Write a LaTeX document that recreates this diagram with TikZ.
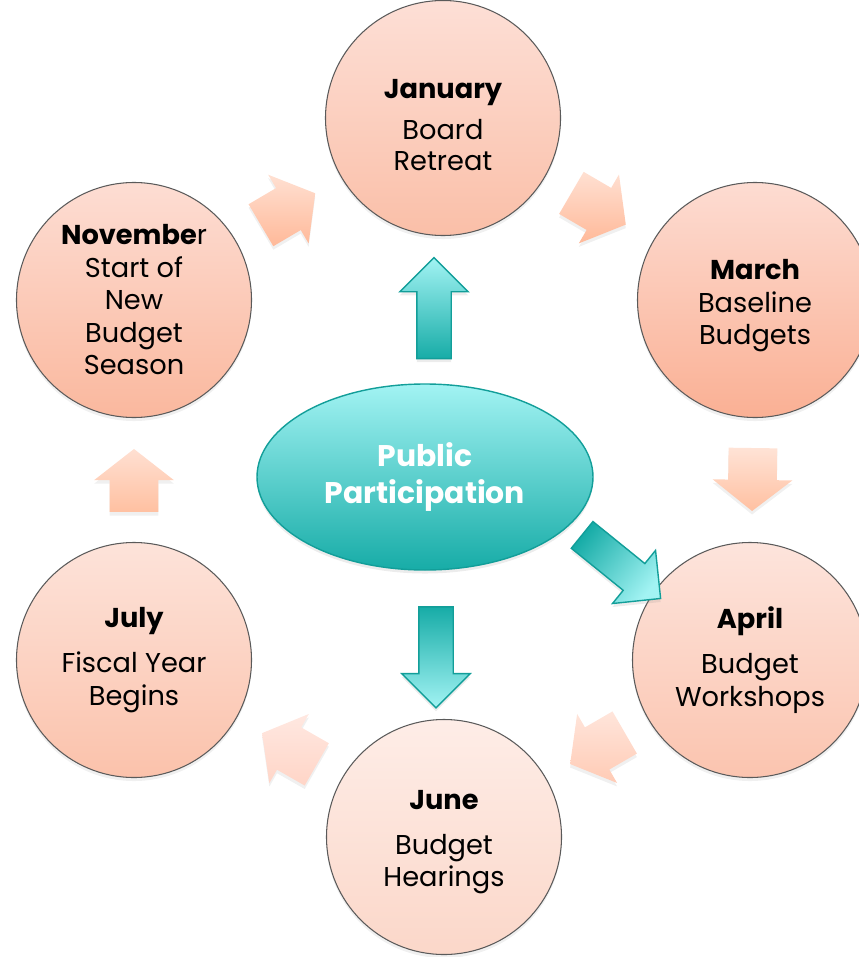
\documentclass[tikz,border=0pt]{standalone}
\usepackage{fontspec}
\setmainfont{Poppins}
\usetikzlibrary{shapes.geometric,shapes.arrows,shadows}
\definecolor{tealdark}{HTML}{17ACA7}
\definecolor{teallight}{HTML}{A2F3F3}
\definecolor{tealline}{HTML}{129E99}
\definecolor{ringline}{HTML}{5A5A5A}
\definecolor{janlight}{HTML}{FDDFD6}
\definecolor{jandark}{HTML}{FABFA8}
\definecolor{marlight}{HTML}{FDDCD2}
\definecolor{mardark}{HTML}{FAB094}
\definecolor{aprlight}{HTML}{FDE4DC}
\definecolor{aprdark}{HTML}{FBC4AF}
\definecolor{junlight}{HTML}{FEEDE7}
\definecolor{jundark}{HTML}{FBD7C9}
\definecolor{jullight}{HTML}{FDE3DA}
\definecolor{juldark}{HTML}{FBC2AB}
\definecolor{novlight}{HTML}{FDDDD3}
\definecolor{novdark}{HTML}{FAB89E}
\definecolor{peachA}{HTML}{FFE0D2}
\definecolor{peachB}{HTML}{FFB999}
\definecolor{peachC}{HTML}{FFE3D6}
\definecolor{peachD}{HTML}{FFC0A1}
\definecolor{peachE}{HTML}{FFE5DB}
\definecolor{peachF}{HTML}{FFCBB5}
\definecolor{peachG}{HTML}{FFE8E1}
\definecolor{peachH}{HTML}{FFD5C7}
\begin{document}
\begin{tikzpicture}
  \useasboundingbox (0,0) rectangle (17.16,-19.14);

  \tikzstyle{month}=[circle, draw=ringline, line width=0.6pt, minimum size=4.7cm, inner sep=0pt, align=center, font=\fontsize{15.5}{18.5}\selectfont, drop shadow={opacity=0.12, shadow xshift=0pt, shadow yshift=-2pt}]
  \tikzstyle{peach}=[single arrow, minimum height=1.26cm, single arrow head extend=0.31cm, single arrow tip angle=104, inner xsep=0pt, inner ysep=0.48cm, sloped, allow upside down, xshift=-0.2cm, drop shadow={opacity=0.12, shadow xshift=0pt, shadow yshift=-2pt}]
  \tikzstyle{tealarrow}=[single arrow, draw=tealline, line width=0.8pt, minimum height=2.02cm, single arrow head extend=0.34cm, inner xsep=0pt, inner ysep=0.33cm, top color=teallight, bottom color=tealdark, drop shadow={opacity=0.15, shadow xshift=0pt, shadow yshift=-2pt}]

  \node[month, top color=janlight, bottom color=jandark] (jan) at (8.86,-2.36) {\textbf{January}\rule{0pt}{0.67cm}\\[5pt]Board\\[-1pt]Retreat};
  \node[month, top color=marlight, bottom color=mardark] (mar) at (15.10,-6.00) {\textbf{March}\rule{0pt}{0.63cm}\\Baseline\\Budgets};
  \node[month, top color=aprlight, bottom color=aprdark] (apr) at (15.00,-13.20) {\textbf{April}\\[7pt]Budget\\Workshops};
  \node[month, top color=junlight, bottom color=jundark] (jun) at (8.88,-16.74) {\textbf{June}\rule{0pt}{0.59cm}\\[7pt]Budget\\Hearings};
  \node[month, top color=jullight, bottom color=juldark] (jul) at (2.68,-13.20) {\textbf{July}\\[7pt]Fiscal Year\\Begins};
  \node[month, top color=novlight, bottom color=novdark] (nov) at (2.68,-6.00) {\textbf{Novembe}r\\Start of\\New\\Budget\\Season};

  \node[ellipse, draw=tealline, line width=0.8pt, top color=teallight, bottom color=tealdark, minimum width=6.72cm, minimum height=3.72cm, align=center, text=white, font=\bfseries\fontsize{17}{21.5}\selectfont, drop shadow={opacity=0.15, shadow xshift=0pt, shadow yshift=-2pt}] (pp) at (8.50,-9.54) {Public\\Participation};

  % the year goes round
  \path (jan) -- (mar) node[midway, peach, top color=peachA, bottom color=peachB] (a1) {};
  \path (mar) -- (apr) node[midway, peach, top color=peachC, bottom color=peachD] (a2) {};
  \path (apr) -- (jun) node[midway, peach, top color=peachE, bottom color=peachF] (a3) {};
  \path (jun) -- (jul) node[midway, peach, top color=peachG, bottom color=peachH] (a4) {};
  \path (jul) -- (nov) node[midway, peach, top color=peachA, bottom color=peachD] (a5) {};
  \path (nov) -- (jan) node[midway, peach, top color=peachA, bottom color=peachB] (a6) {};

  % public participation feeds three steps
  \path (pp.north) -- (jan.south) node[midway, tealarrow, rotate=90, xshift=-0.14cm] (toJan) {};
  \path (pp.south) -- (jun.north) node[pos=0.58, tealarrow, rotate=-90, xshift=-0.16cm, shading angle=180] (toJun) {};
  \node[tealarrow, rotate=-39, xshift=-0.15cm, shading angle=-129] (toApr) at (12.41,-11.32) {};
\end{tikzpicture}
\end{document}
